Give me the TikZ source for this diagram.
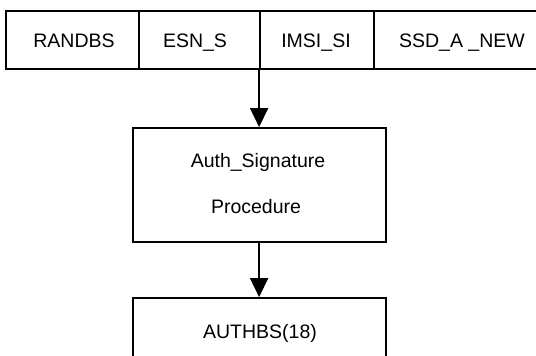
\documentclass[tikz,border=0pt]{standalone}
\usepackage{fontspec}
\setmainfont{Liberation Sans}
\usetikzlibrary{arrows.meta}
\begin{document}
\begin{tikzpicture}[x=1pt,y=-1pt,
  frame/.style={draw, line width=1.8pt, inner sep=0pt},
  cell/.style={frame, minimum height=58pt},
  lbl/.style={font=\fontsize{19.5}{23}\selectfont, anchor=base, inner sep=0pt},
  flow/.style={line width=1.8pt, -{Triangle[width=18pt,length=19pt]}}]
\useasboundingbox (0,0) rectangle (536,356);
\clip (0,0) rectangle (536,356);
\fill[white] (0,0) rectangle (536,356);

% record of input fields
\node[cell, minimum width=133pt] (randbs) at (72.5,40) {};
\node[cell, minimum width=121pt] (esn) at (199.5,40) {};
\node[cell, minimum width=114pt] (imsi) at (317,40) {};
\node[cell, minimum width=176pt] (ssd) at (462,40) {};
\node[lbl] (trandbs) at (74,47) {RANDBS};
\node[lbl] (tesn) at (195,47) {ESN\_S};
\node[lbl] (timsi) at (316,47) {IMSI\_SI};
\node[lbl] (tssd) at (462,47) {SSD\_A \_NEW};

% procedure and result
\node[frame, minimum width=253pt, minimum height=114pt] (proc) at (259.5,185) {};
\node[lbl] (tproc1) at (258,167) {Auth\_Signature};
\node[lbl] (tproc2) at (256,213) {Procedure};
\node[frame, minimum width=253pt, minimum height=72pt] (out) at (259.5,334) {};
\node[lbl] (tout) at (260,338) {AUTHBS(18)};

% data flow
\draw[flow] (imsi.south west) -- (imsi.south west |- proc.north);
\draw[flow] (imsi.south west |- proc.south) -- (imsi.south west |- out.north);
\end{tikzpicture}
\end{document}
